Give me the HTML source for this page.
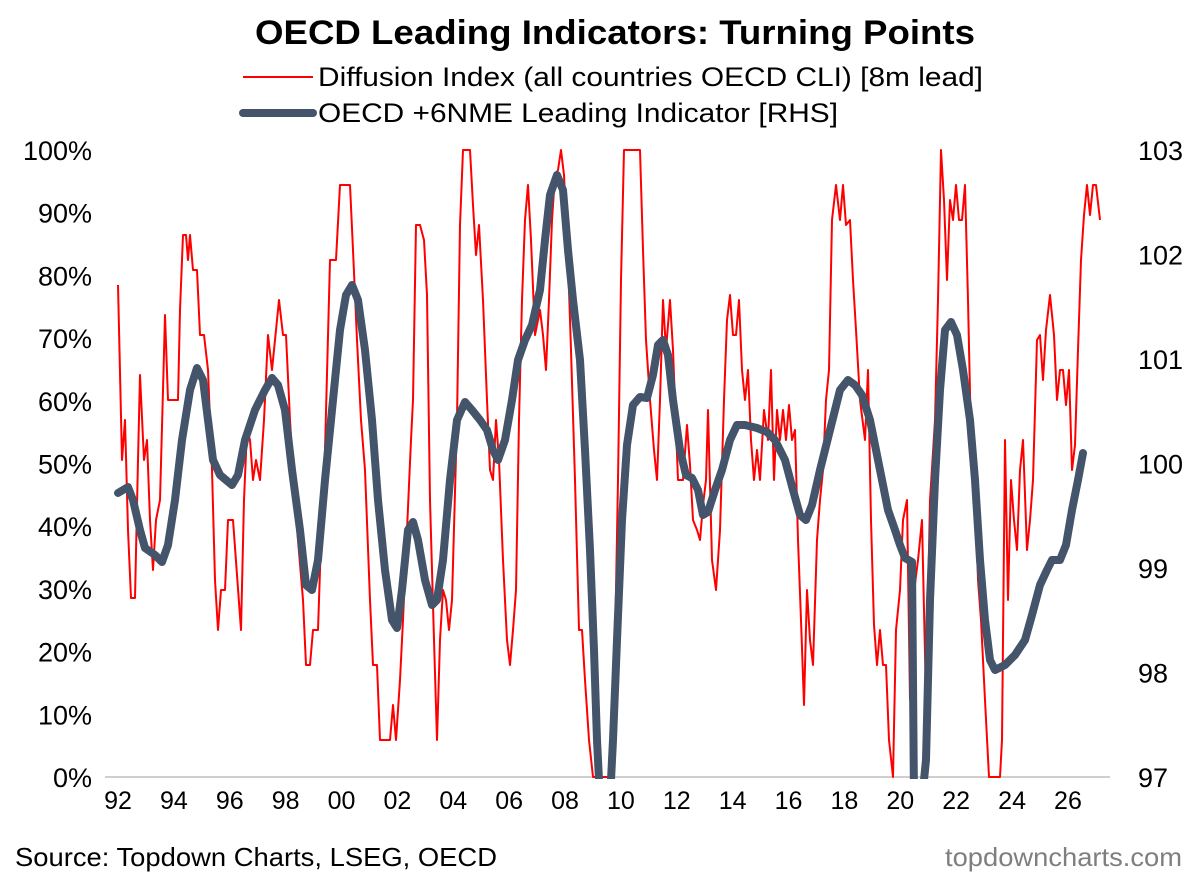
<!DOCTYPE html>
<html><head><meta charset="utf-8"><style>
body{margin:0;background:#fff;font-family:"Liberation Sans",Arial,sans-serif}
svg text{font-family:"Liberation Sans",Arial,sans-serif}
</style></head><body>
<svg width="1200" height="875" viewBox="0 0 1200 875">
<rect width="1200" height="875" fill="#fff"/>
<text x="255" y="44" font-size="34" font-weight="bold" fill="#000" textLength="720" lengthAdjust="spacingAndGlyphs">OECD Leading Indicators: Turning Points</text>
<line x1="243" y1="77" x2="313" y2="77" stroke="#ff0000" stroke-width="2"/>
<text x="318" y="86" font-size="27" fill="#000" textLength="665" lengthAdjust="spacingAndGlyphs">Diffusion Index (all countries OECD CLI) [8m lead]</text>
<line x1="243" y1="113" x2="313" y2="113" stroke="#44546a" stroke-width="8" stroke-linecap="round"/>
<text x="318" y="122" font-size="27" fill="#000" textLength="520" lengthAdjust="spacingAndGlyphs">OECD +6NME Leading Indicator [RHS]</text>
<g font-size="27" fill="#000" text-anchor="end" id="ly"></g>
<g font-size="27" fill="#000" text-anchor="start" id="ry"></g>
<g font-size="25" fill="#000" text-anchor="middle" id="xl"></g>
<line x1="105" y1="777" x2="1110" y2="777" stroke="#bfbfbf" stroke-width="1.5"/>
<defs><clipPath id="c"><rect x="105" y="140" width="1005" height="639"/></clipPath></defs>
<g clip-path="url(#c)">
<polyline id="red" fill="none" stroke="#ff0000" stroke-width="2" stroke-linejoin="round"/>
<polyline id="blue" fill="none" stroke="#44546a" stroke-width="8" stroke-linejoin="round" stroke-linecap="round"/>
</g>
<text x="15" y="866" font-size="26" fill="#000" textLength="482" lengthAdjust="spacingAndGlyphs">Source: Topdown Charts, LSEG, OECD</text>
<text x="945" y="866" font-size="26" fill="#7f7f7f" textLength="237" lengthAdjust="spacingAndGlyphs">topdowncharts.com</text>
</svg>
<script>
var ns="http://www.w3.org/2000/svg";
function t(g,x,y,s){var e=document.createElementNS(ns,"text");e.setAttribute("x",x);e.setAttribute("y",y);e.textContent=s;document.getElementById(g).appendChild(e);}
for(var i=0;i<=10;i++){var y=777-i*62.7;t("ly",92,y+10,(i*10)+"%");}
for(var i=0;i<=6;i++){var y=777-i*104.5;t("ry",1138,y+10,String(97+i));}
for(var yr=92;yr<=126;yr+=2){var x=118+(yr-92)*27.94;t("xl",x,809,String(yr%100).padStart(2,"0"));}
var red=[118,285,122,460,125,420,128,530,131,598,135,598,138,460,140,375,144,460,147,440,150,520,153,570,156,520,160,500,163,390,165,315,168,400,172,400,178,400,180,310,183,235,186,235,188,260,190,235,193,270,197,270,200,335,204,335,208,370,212,470,215,580,218,630,221,590,225,590,228,520,233,520,237,575,241,630,244,500,247,430,250,440,253,480,256,460,260,480,264,420,268,335,272,370,276,330,279,300,283,335,286,335,290,420,294,485,298,540,303,600,306,665,310,665,313,630,318,630,321,540,325,450,330,260,336,260,340,185,345,185,350,185,353,250,357,340,361,420,365,470,370,600,373,665,377,665,380,740,390,740,393,705,396,740,400,680,403,620,407,530,411,440,413,400,416,225,420,225,424,240,427,295,430,500,434,640,437,740,440,640,443,590,446,600,449,630,452,600,457,420,460,225,463,150,470,150,473,205,476,255,479,225,483,300,487,400,490,470,493,480,496,420,499,460,503,560,507,640,510,665,513,630,516,590,519,420,522,300,525,220,528,185,531,240,535,335,540,310,543,335,546,370,549,300,552,220,555,175,558,170,561,150,564,175,568,260,571,350,575,480,579,630,582,630,585,680,589,740,593,777,610,777,614,700,618,480,621,280,624,150,640,150,643,250,646,340,650,400,654,450,657,480,660,400,663,300,666,350,670,300,673,350,678,480,683,480,687,425,690,465,693,520,697,530,700,540,703,505,706,480,708,410,712,560,716,590,720,530,724,400,727,320,730,295,733,335,736,335,739,300,742,370,745,400,748,370,751,440,754,480,757,450,760,480,764,410,768,440,771,370,774,480,777,410,780,440,783,410,786,440,789,405,792,440,795,430,798,540,801,620,804,705,807,590,810,640,813,665,817,540,820,500,823,470,826,400,829,370,832,220,836,185,840,220,843,185,846,225,850,220,853,280,856,330,860,400,865,440,868,370,871,520,874,625,877,665,880,630,883,665,886,665,889,740,893,777,896,630,900,590,903,520,907,500,910,700,913,600,918,560,922,520,926,700,930,500,935,420,938,300,941,150,944,200,947,280,950,200,953,220,956,185,959,220,962,220,965,185,968,300,971,440,975,480,978,580,981,620,985,700,989,777,1000,777,1002,740,1005,440,1008,600,1011,480,1014,520,1017,550,1020,470,1023,440,1027,550,1030,520,1033,480,1037,340,1040,335,1043,380,1046,330,1050,295,1054,335,1057,400,1060,370,1063,370,1066,405,1069,370,1072,470,1075,445,1078,350,1081,260,1084,215,1087,185,1090,215,1093,185,1096,185,1100,220];
var blue=[118,493,128,487,133,500,140,530,145,548,155,555,162,562,168,545,175,500,182,440,190,390,197,368,203,380,208,420,213,460,220,475,232,485,238,475,245,440,255,410,265,390,272,378,278,385,285,410,292,470,300,530,306,585,312,590,318,560,325,480,332,410,340,330,346,295,352,285,358,300,365,350,372,420,378,500,385,570,392,620,397,628,402,590,408,530,413,522,418,540,425,580,432,605,437,600,443,560,450,480,457,420,465,402,472,410,480,420,487,430,493,450,498,460,505,440,512,400,518,360,525,340,532,325,540,290,545,240,550,195,557,175,563,190,568,250,573,300,580,360,585,450,590,550,594,650,597,740,600,800,610,800,613,740,617,640,622,520,627,445,633,405,640,397,647,398,653,375,658,345,663,340,668,355,673,400,680,450,686,475,692,478,698,490,703,515,708,512,715,490,722,470,730,440,737,425,745,425,757,428,767,432,775,440,785,460,793,490,800,515,806,520,812,505,820,470,830,430,840,390,848,380,855,385,862,395,870,420,880,470,888,510,895,530,900,545,905,558,912,562,914,800,922,800,926,760,930,600,935,480,940,390,945,330,951,322,957,335,963,370,970,420,975,480,980,560,985,620,990,660,995,670,1005,665,1015,655,1025,640,1032,615,1040,585,1047,570,1052,560,1060,560,1066,545,1072,510,1078,480,1083,453];
function pts(a){var s=[];for(var i=0;i<a.length;i+=2)s.push(a[i]+","+a[i+1]);return s.join(" ");}
document.getElementById("red").setAttribute("points",pts(red));
document.getElementById("blue").setAttribute("points",pts(blue));
</script>
</body></html>
